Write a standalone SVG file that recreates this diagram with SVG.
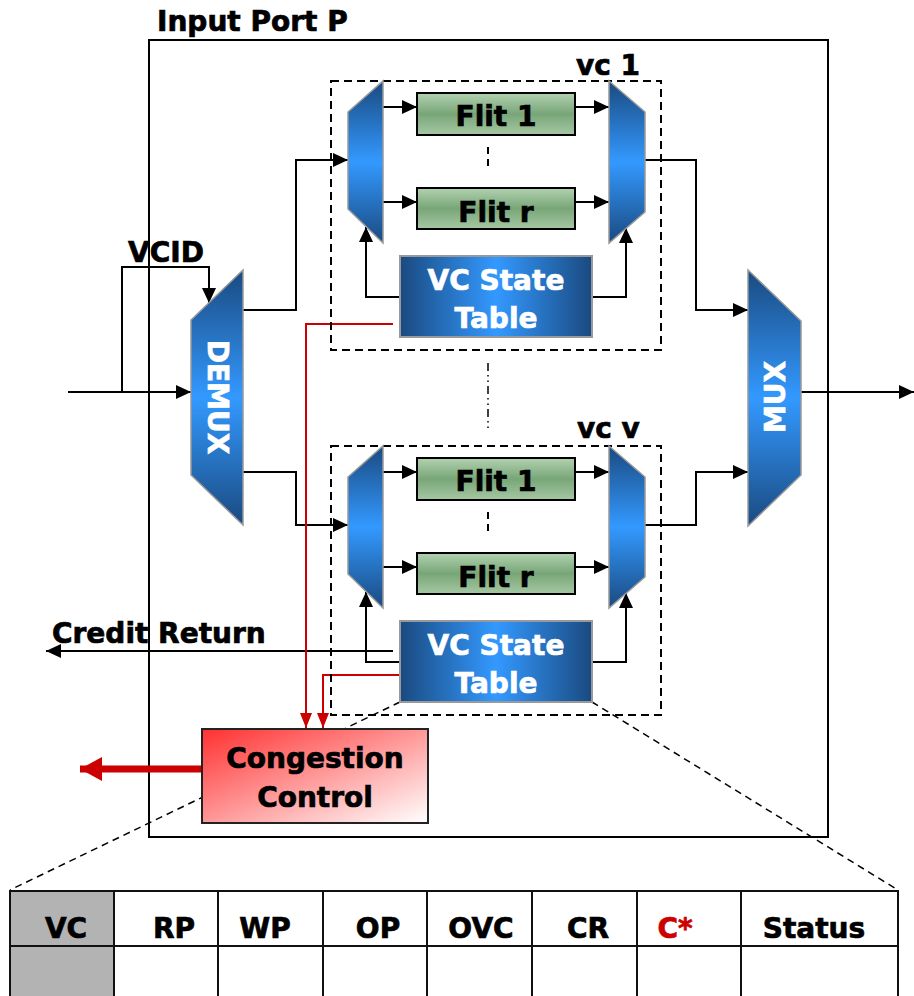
<svg xmlns="http://www.w3.org/2000/svg" width="914" height="996" viewBox="0 0 914 996">
<defs>
<linearGradient id="gBlueV" x1="0" y1="0" x2="0" y2="1">
<stop offset="0" stop-color="#1a4a80"/><stop offset="0.5" stop-color="#3399ff"/><stop offset="1" stop-color="#1a4a80"/>
</linearGradient>
<linearGradient id="gBlueH" x1="0" y1="0" x2="1" y2="0">
<stop offset="0" stop-color="#1a4a80"/><stop offset="0.5" stop-color="#3399ff"/><stop offset="1" stop-color="#1a4a80"/>
</linearGradient>
<linearGradient id="gGreen" x1="0" y1="0" x2="0" y2="1">
<stop offset="0" stop-color="#b2d2b0"/><stop offset="0.5" stop-color="#78a678"/><stop offset="1" stop-color="#a6c8a4"/>
</linearGradient>
<linearGradient id="gRed" x1="0" y1="0" x2="1" y2="1">
<stop offset="0" stop-color="#ff3030"/><stop offset="1" stop-color="#ffffff"/>
</linearGradient>
<marker id="ah" viewBox="0 0 15 14" refX="15" refY="7" markerWidth="15" markerHeight="14" markerUnits="userSpaceOnUse" orient="auto"><path d="M0,0 L15,7 L0,14 z" fill="#000"/></marker>
<marker id="ahr" viewBox="0 0 15 12" refX="15" refY="6" markerWidth="15" markerHeight="12" markerUnits="userSpaceOnUse" orient="auto"><path d="M0,0 L15,6 L0,12 z" fill="#cc0000"/></marker>
<marker id="ahbig" viewBox="0 0 22 24" refX="22" refY="12" markerWidth="22" markerHeight="24" markerUnits="userSpaceOnUse" orient="auto"><path d="M0,0 L22,12 L0,24 z" fill="#cc0000"/></marker>
<style>
text{font-family:"DejaVu Sans","Verdana",sans-serif;font-weight:bold;font-size:28px;fill:#000;stroke:#000;stroke-width:0.7}
.w{fill:#fff;stroke:#fff}
.mid{text-anchor:middle}
.red{fill:#cc0000;stroke:#cc0000}
.trap{fill:url(#gBlueV);stroke:#999;stroke-width:1.5}
.vst{fill:url(#gBlueH);stroke:#999;stroke-width:2}
.flit{fill:url(#gGreen);stroke:#000;stroke-width:2}
.dbox{fill:none;stroke:#000;stroke-width:2;stroke-dasharray:8 5}
.c{fill:none;stroke:#000;stroke-width:2}
.a{marker-end:url(#ah)}
.r{fill:none;stroke:#cc0000;stroke-width:2;marker-end:url(#ahr)}
.dz{fill:none;stroke:#000;stroke-width:1.5;stroke-dasharray:7 5}
.cell{fill:#fff;stroke:#111;stroke-width:2}
</style>
</defs>
<rect width="914" height="996" fill="#fff"/>

<g id="input-port">
<rect x="149" y="40" width="679" height="797" fill="none" stroke="#000" stroke-width="2"/>
<text x="157" y="31">Input Port P</text>
</g>

<g id="connectors">
<path class="dz" d="M400,702 L10,890"/>
<path class="dz" d="M592,702 L898,890"/>
<path class="c a" d="M68,392 H191"/>
<path class="c a" d="M122,392 V267 H209 V303"/>
<path class="c a" d="M243,310 H296 V160 H348"/>
<path class="c a" d="M243,472 H296 V525 H348"/>
<path class="c a" d="M383,107 H417"/>
<path class="c a" d="M383,202 H417"/>
<path class="c a" d="M575,107 H609"/>
<path class="c a" d="M575,202 H609"/>
<path class="c a" d="M400,297 H366 V227"/>
<path class="c a" d="M592,297 H626 V228"/>
<path class="c a" d="M645,160 H696 V310 H748"/>
<path class="c a" d="M383,472 H417"/>
<path class="c a" d="M383,567 H417"/>
<path class="c a" d="M575,472 H609"/>
<path class="c a" d="M575,567 H609"/>
<path class="c a" d="M400,662 H366 V592"/>
<path class="c a" d="M592,662 H626 V593"/>
<path class="c a" d="M645,525 H696 V472 H748"/>
<path class="c a" d="M801,392 H914"/>
<path class="c a" d="M393,651 H46"/>
<path class="r" d="M393,324 H306 V728"/>
<path class="r" d="M400,675 H323 V728"/>
<path fill="none" stroke="#cc0000" stroke-width="7" marker-end="url(#ahbig)" d="M202,769 H80"/>
<path fill="none" stroke="#000" stroke-width="2" stroke-dasharray="7 5" d="M488,147 V168"/>
<path fill="none" stroke="#000" stroke-width="2" stroke-dasharray="7 5" d="M488,512 V533"/>
<path fill="none" stroke="#000" stroke-width="1.5" stroke-dasharray="8 4 1.5 4 1.5 4" d="M488,363 V432"/>
</g>

<g id="vcid-label"><text x="128" y="262">VCID</text></g>
<g id="credit-return-label"><text x="52" y="643">Credit Return</text></g>

<g id="demux">
<polygon class="trap" points="243,270 243,525 191,475 191,320"/>
<text class="w mid" transform="translate(217,397) rotate(90)" dominant-baseline="central">DEMUX</text>
</g>

<g id="mux">
<polygon class="trap" points="748,270 801,321 801,475 748,526"/>
<text class="w mid" transform="translate(775,397) rotate(-90)" dominant-baseline="central">MUX</text>
</g>

<g id="vc1">
<rect class="dbox" x="331" y="81" width="330" height="269"/>
<text x="576" y="75">vc 1</text>
<polygon class="trap" points="383,81 383,243 348,209 348,112"/>
<polygon class="trap" points="609,81 645,112 645,212 609,243"/>
<rect class="flit" x="417" y="93" width="158" height="42"/>
<text class="mid" x="496" y="126">Flit 1</text>
<rect class="flit" x="417" y="188" width="158" height="41"/>
<text class="mid" x="496" y="222">Flit r</text>
<rect class="vst" x="400" y="256" width="192" height="81"/>
<text class="w mid" x="496" y="290">VC State</text>
<text class="w mid" x="496" y="328">Table</text>
</g>

<g id="vcv">
<rect class="dbox" x="331" y="446" width="330" height="269"/>
<text x="577" y="438">vc v</text>
<polygon class="trap" points="383,446 383,608 348,574 348,477"/>
<polygon class="trap" points="609,446 645,477 645,577 609,608"/>
<rect class="flit" x="417" y="458" width="158" height="42"/>
<text class="mid" x="496" y="491">Flit 1</text>
<rect class="flit" x="417" y="553" width="158" height="41"/>
<text class="mid" x="496" y="587">Flit r</text>
<rect class="vst" x="400" y="621" width="192" height="81"/>
<text class="w mid" x="496" y="655">VC State</text>
<text class="w mid" x="496" y="693">Table</text>
</g>

<g id="congestion-control">
<rect x="202" y="729" width="226" height="94" fill="url(#gRed)" stroke="#222" stroke-width="2"/>
<text class="mid" x="315" y="768">Congestion</text>
<text class="mid" x="315" y="807">Control</text>
</g>

<g id="state-table">
<rect x="10" y="891" width="104" height="55" fill="#b3b3b3" stroke="#111" stroke-width="2"/>
<rect x="10" y="946" width="104" height="60" fill="#b3b3b3" stroke="#111" stroke-width="2"/>
<rect class="cell" x="114" y="891" width="104" height="55"/>
<rect class="cell" x="218" y="891" width="105" height="55"/>
<rect class="cell" x="323" y="891" width="104" height="55"/>
<rect class="cell" x="427" y="891" width="105" height="55"/>
<rect class="cell" x="532" y="891" width="105" height="55"/>
<rect class="cell" x="637" y="891" width="104" height="55"/>
<rect class="cell" x="741" y="891" width="157" height="55"/>
<rect class="cell" x="114" y="946" width="104" height="60"/>
<rect class="cell" x="218" y="946" width="105" height="60"/>
<rect class="cell" x="323" y="946" width="104" height="60"/>
<rect class="cell" x="427" y="946" width="105" height="60"/>
<rect class="cell" x="532" y="946" width="105" height="60"/>
<rect class="cell" x="637" y="946" width="104" height="60"/>
<rect class="cell" x="741" y="946" width="157" height="60"/>
<text class="mid" x="66" y="938">VC</text>
<text class="mid" x="174" y="938">RP</text>
<text class="mid" x="265" y="938">WP</text>
<text class="mid" x="378" y="938">OP</text>
<text class="mid" x="481" y="938">OVC</text>
<text class="mid" x="588" y="938">CR</text>
<text class="mid red" x="675" y="938">C*</text>
<text class="mid" x="814" y="938">Status</text>
</g>
</svg>
